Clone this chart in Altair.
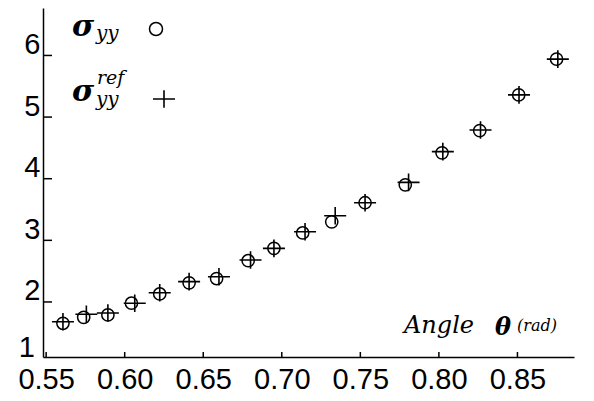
import altair as alt
import pandas as pd

# data
theta_c = [0.5607, 0.5739, 0.5893, 0.6043, 0.6223, 0.6410, 0.6585, 0.6786, 0.6950,
           0.7133, 0.7318, 0.7530, 0.7786, 0.8020, 0.8260, 0.8508, 0.8749]
sigma_yy = [1.654, 1.75, 1.79, 1.98, 2.13, 2.31, 2.38, 2.67, 2.87,
            3.12, 3.30, 3.61, 3.90, 4.42, 4.78, 5.36, 5.94]
theta_p = [0.5607, 0.5756, 0.5893, 0.6064, 0.6223, 0.6410, 0.6600, 0.6801, 0.6950,
           0.7148, 0.7340, 0.7530, 0.7807, 0.8025, 0.8265, 0.8510, 0.8757]
sigma_ref = [1.68, 1.80, 1.82, 1.98, 2.15, 2.33, 2.41, 2.68, 2.87,
             3.14, 3.40, 3.61, 3.94, 4.44, 4.79, 5.36, 5.94]
x_ticks = [0.55, 0.60, 0.65, 0.70, 0.75, 0.80, 0.85]
y_ticks = [2, 3, 4, 5, 6]

W, H = 531, 349
xdom = [0.548, 0.886]
ydom = [1.107, 6.77]
LABEL_FONT = "Liberation Sans"
SERIF = "DejaVu Serif"

df_c = pd.DataFrame({"theta": theta_c, "s": sigma_yy})
df_p = pd.DataFrame({"theta": theta_p, "s": sigma_ref})

xs = alt.Scale(domain=xdom, nice=False, zero=False)
ys = alt.Scale(domain=ydom, nice=False, zero=False)

xaxis = alt.Axis(values=x_ticks, format=".2f", ticks=False, grid=False, title=None,
                 labelFont=LABEL_FONT, labelFontSize=29, labelColor="black",
                 labelPadding=8, domainColor="black", domainWidth=1.5, labelFlush=False)
yaxis = alt.Axis(values=y_ticks, format="d", ticks=False, grid=False, title=None,
                 labelFont=LABEL_FONT, labelFontSize=29, labelColor="black",
                 labelPadding=3, labelBaseline="alphabetic", labelOffset=-2,
                 domainColor="black", domainWidth=1.5, labelFlush=False)

plus_path = "M-1,0L1,0M0,-0.8L0,0.8"

circles = alt.Chart(df_c).mark_point(shape="circle", filled=False, color="black",
                                     size=150, strokeWidth=1.5, opacity=1).encode(
    x=alt.X("theta:Q", scale=xs, axis=xaxis),
    y=alt.Y("s:Q", scale=ys, axis=yaxis),
)
pluses = alt.Chart(df_p).mark_point(shape=plus_path, filled=False, color="black",
                                    size=484, strokeWidth=1.6, opacity=1).encode(
    x=alt.X("theta:Q", scale=xs),
    y=alt.Y("s:Q", scale=ys),
)

yt = alt.Chart(pd.DataFrame({"v": y_ticks})).mark_rule(color="black", strokeWidth=1.5).encode(
    y=alt.Y("v:Q", scale=ys), x=alt.value(0), x2=alt.value(9))
xt = alt.Chart(pd.DataFrame({"v": x_ticks})).mark_rule(color="black", strokeWidth=1.5).encode(
    x=alt.X("v:Q", scale=xs), y=alt.value(H), y2=alt.value(H - 5))

one = alt.Chart(pd.DataFrame({"t": ["1"]})).mark_text(
    font=LABEL_FONT, fontSize=29, align="right", baseline="alphabetic", color="black").encode(
    text="t:N", x=alt.value(-8), y=alt.value(H))


def txt(t, x, y, size, font=SERIF, style="italic", weight="normal", align="left"):
    return alt.Chart(pd.DataFrame({"t": [t]})).mark_text(
        font=font, fontSize=size, fontStyle=style, fontWeight=weight, align=align,
        baseline="alphabetic", color="black").encode(
        text="t:N", x=alt.value(x), y=alt.value(y))


leg = [
    txt("σ", 29, 28, 30, weight="bold"),
    txt("yy", 53, 32, 20),
    txt("σ", 29, 93, 30, weight="bold"),
    txt("ref", 54, 76, 19),
    txt("yy", 53, 98, 20),
    txt("Angle", 361, 325, 24),
    txt("θ", 452, 327, 24, weight="bold"),
    txt("(rad)", 474, 323, 16),
]

leg_c = alt.Chart(pd.DataFrame({"t": ["c"]})).mark_point(
    shape="circle", filled=False, color="black", size=170, strokeWidth=1.5, opacity=1).encode(
    x=alt.value(113), y=alt.value(21))
leg_p = alt.Chart(pd.DataFrame({"t": ["p"]})).mark_point(
    shape=plus_path, filled=False, color="black", size=484, strokeWidth=1.6, opacity=1).encode(
    x=alt.value(121), y=alt.value(91))

chart = alt.layer(circles, pluses, yt, xt, one, leg_c, leg_p, *leg).properties(
    width=W, height=H,
    background="white",
    autosize=alt.AutoSizeParams(type="none"),
    padding={"left": 35, "top": 0, "right": 12, "bottom": 44},
).configure_view(stroke="transparent", strokeWidth=0)

chart.save("out.html", embed_options={"renderer": "svg", "actions": False})
